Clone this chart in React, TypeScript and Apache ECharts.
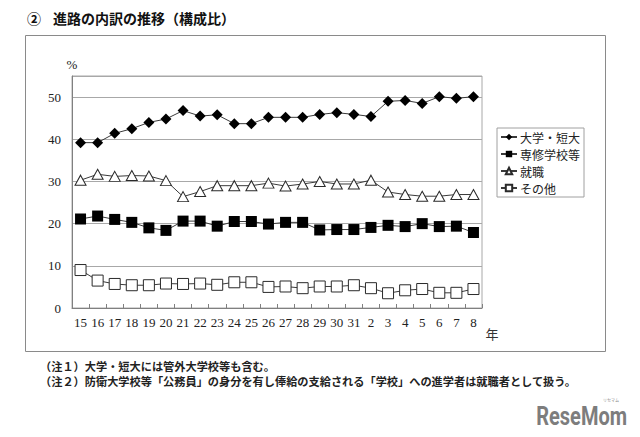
import React, { useEffect, useRef } from "react";
import * as echarts from "echarts";

// 年度（平成15〜31年、令和2〜8年）
const years = [
  "15", "16", "17", "18", "19", "20", "21", "22", "23", "24", "25", "26",
  "27", "28", "29", "30", "31", "2", "3", "4", "5", "6", "7", "8",
];

// 進路別構成比（%）
const univ = [
  39.2, 39.2, 41.4, 42.5, 44.0, 44.8, 46.8, 45.5, 45.8, 43.7, 43.7, 45.2,
  45.2, 45.2, 45.9, 46.3, 45.9, 45.4, 49.0, 49.2, 48.5, 50.1, 49.7, 50.1,
];
const vocational = [
  21.1, 21.8, 21.0, 20.3, 19.0, 18.4, 20.6, 20.6, 19.4, 20.5, 20.5, 19.9,
  20.3, 20.3, 18.5, 18.6, 18.6, 19.1, 19.6, 19.3, 20.0, 19.3, 19.4, 17.9,
];
const employed = [
  30.3, 31.7, 31.2, 31.4, 31.3, 30.2, 26.4, 27.6, 29.0, 29.0, 29.0, 29.6,
  28.9, 29.4, 30.0, 29.4, 29.4, 30.3, 27.5, 26.9, 26.5, 26.5, 26.9, 26.9,
];
const other = [
  9.0, 6.5, 5.7, 5.4, 5.4, 5.8, 5.7, 5.8, 5.5, 6.1, 6.1, 5.0,
  5.1, 4.7, 5.1, 5.1, 5.4, 4.7, 3.5, 4.2, 4.5, 3.6, 3.6, 4.5,
];

const seriesNames = ["大学・短大", "専修学校等", "就職", "その他"];

const notes = [
  "（注１）大学・短大には管外大学校等も含む。",
  "（注２）防衛大学校等「公務員」の身分を有し俸給の支給される「学校」への進学者は就職者として扱う。",
];

const JP = "'Noto Sans CJK JP', sans-serif";
const SERIF = "'Liberation Serif', 'DejaVu Serif', serif";

export default function App() {
  const ref = useRef<HTMLDivElement>(null);

  useEffect(() => {
    if (!ref.current) return;
    const chart = echarts.init(ref.current, null, { renderer: "svg" });

    const lineStyle = { color: "#3a3a3a", width: 1 };
    const mk = (name: string, data: number[], symbol: string, size: any, fill: string) => ({
      name,
      type: "line",
      data,
      symbol,
      symbolSize: size,
      showAllSymbol: true,
      lineStyle,
      itemStyle: { color: fill, borderColor: "#2a2a2a", borderWidth: fill === "#fff" ? 1 : 0 },
      z: 3,
    });

    chart.setOption({
      animation: false,
      backgroundColor: "#fff",
      grid: {
        left: 72,
        top: 76,
        width: 410,
        height: 232,
        show: true,
        borderColor: "#a8a8a8",
        borderWidth: 1,
        containLabel: false,
      },
      xAxis: {
        type: "category",
        data: years,
        boundaryGap: true,
        axisLine: { lineStyle: { color: "#808080", width: 1 } },
        axisTick: { show: true, inside: true, length: 4, lineStyle: { color: "#808080" } },
        axisLabel: { color: "#222", fontFamily: SERIF, fontSize: 13, margin: 8, interval: 0 },
        splitLine: { show: false },
      },
      yAxis: {
        type: "value",
        min: 0,
        max: 55,
        interval: 10,
        name: "%",
        nameLocation: "end",
        nameGap: 5,
        nameTextStyle: { color: "#222", fontFamily: SERIF, fontSize: 13, align: "center" },
        axisLine: { show: true, lineStyle: { color: "#808080", width: 1 } },
        axisTick: { show: false },
        axisLabel: { color: "#222", fontFamily: SERIF, fontSize: 13, margin: 11, showMaxLabel: false },
        splitLine: { show: true, lineStyle: { color: "#a8a8a8", width: 1 } },
      },
      legend: {
        data: seriesNames,
        orient: "vertical",
        left: 497,
        top: 128,
        padding: [2, 4, 2, 3],
        itemGap: 3,
        itemWidth: 16,
        itemHeight: 8,
        borderColor: "#a0a0a0",
        borderWidth: 1,
        textStyle: {
          fontFamily: JP,
          fontSize: 12,
          lineHeight: 14,
          color: "#222",
          padding: [0, 0, 0, -2],
        },
      },
      series: [
        mk(seriesNames[0], univ, "diamond", 11, "#000"),
        mk(seriesNames[1], vocational, "rect", 11, "#000"),
        mk(seriesNames[2], employed, "triangle", [11, 10], "#fff"),
        mk(seriesNames[3], other, "rect", 11, "#fff"),
      ],
      graphic: [
        // 外枠
        {
          type: "rect",
          shape: { x: 25.5, y: 35.5, width: 580, height: 316 },
          style: { fill: "none", stroke: "#8a8a8a", lineWidth: 1 },
          z: 0,
        },
        {
          type: "text",
          x: 27,
          y: 18,
          style: { text: "②", font: `bold 14px ${JP}`, fill: "#111", verticalAlign: "middle" },
        },
        {
          type: "text",
          x: 53,
          y: 18,
          style: { text: "進路の内訳の推移（構成比）", font: `bold 14px ${JP}`, fill: "#111", verticalAlign: "middle" },
        },
        {
          type: "text",
          x: 492,
          y: 333,
          style: { text: "年", font: `13px ${JP}`, fill: "#333", align: "center", verticalAlign: "middle" },
        },
        ...notes.map((t, i) => ({
          type: "text",
          x: 40,
          y: 366 + i * 15,
          style: { text: t, font: `bold 11.2px ${JP}`, fill: "#222", verticalAlign: "middle" },
        })),
        {
          type: "text",
          x: 627,
          y: 417,
          scaleX: 0.8,
          style: {
            text: "ReseMom",
            font: "bold 25px 'Roboto', 'Liberation Sans', sans-serif",
            fill: "#7d7d7d",
            align: "right",
            verticalAlign: "middle",
          },
        },
        {
          type: "text",
          x: 611,
          y: 400,
          style: { text: "リセマム", font: `4px ${JP}`, fill: "#8a8a8a", align: "center", verticalAlign: "middle" },
        },
      ],
    });

    return () => chart.dispose();
  }, []);

  return (
    <div
      ref={ref}
      style={{ position: "fixed", left: 0, top: 0, width: 640, height: 437, background: "#fff" }}
    />
  );
}
